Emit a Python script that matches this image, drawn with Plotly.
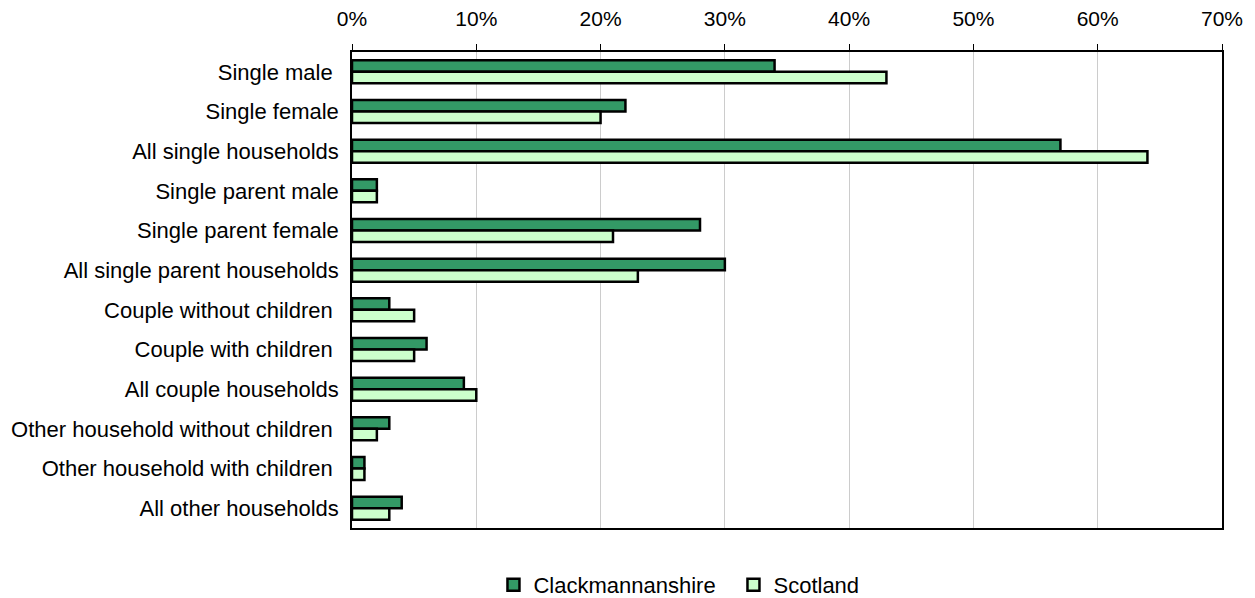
import plotly.graph_objects as go

categories = [
    "Single male\u00a0",
    "Single female",
    "All single households",
    "Single parent male",
    "Single parent female",
    "All single parent households",
    "Couple without children\u00a0",
    "Couple with children\u00a0",
    "All couple households",
    "Other household without children\u00a0",
    "Other household with children\u00a0",
    "All other households",
]
clackmannanshire = [34, 22, 57, 2, 28, 30, 3, 6, 9, 3, 1, 4]
scotland = [43, 20, 64, 2, 21, 23, 5, 5, 10, 2, 1, 3]
x_ticks = [0, 10, 20, 30, 40, 50, 60, 70]

FONT = "Liberation Sans, Arial, sans-serif"

fig = go.Figure()
fig.add_trace(go.Bar(
    y=categories, x=clackmannanshire, orientation="h", name="Clackmannanshire",
    marker=dict(color="#339966", line=dict(color="#000000", width=2.5)),
))
fig.add_trace(go.Bar(
    y=categories, x=scotland, orientation="h", name="Scotland",
    marker=dict(color="#CCFFCC", line=dict(color="#000000", width=2.5)),
))

fig.update_layout(
    width=1255, height=598,
    margin=dict(l=352, r=33, t=52, b=70),
    barmode="group", bargap=0.42, bargroupgap=0,
    plot_bgcolor="white", paper_bgcolor="white",
    font=dict(family=FONT, size=22, color="#000000"),
    showlegend=True,
    legend=dict(
        orientation="h", xref="container", yref="container",
        x=0.3932, y=0.022, xanchor="left", yanchor="middle",
        font=dict(size=22), itemwidth=30, traceorder="normal",
        entrywidth=195, entrywidthmode="pixels",
    ),
    xaxis=dict(
        side="top", range=[0, 70], tickvals=x_ticks,
        ticktext=[f"{v}%" for v in x_ticks],
        showgrid=True, gridcolor="#cccccc", gridwidth=1,
        showline=True, linecolor="#000000", linewidth=1.5, mirror=True,
        ticks="outside", ticklen=6, tickcolor="#000000",
        tickfont=dict(size=21), ticklabelstandoff=10,
        zeroline=False, fixedrange=True, automargin=False,
    ),
    yaxis=dict(
        autorange="reversed", type="category",
        showline=True, linecolor="#000000", linewidth=1.5, mirror=True,
        ticks="", ticklabelstandoff=7, tickfont=dict(size=22),
        showgrid=False, fixedrange=True, automargin=False,
    ),
)

fig.write_html("out.html")
